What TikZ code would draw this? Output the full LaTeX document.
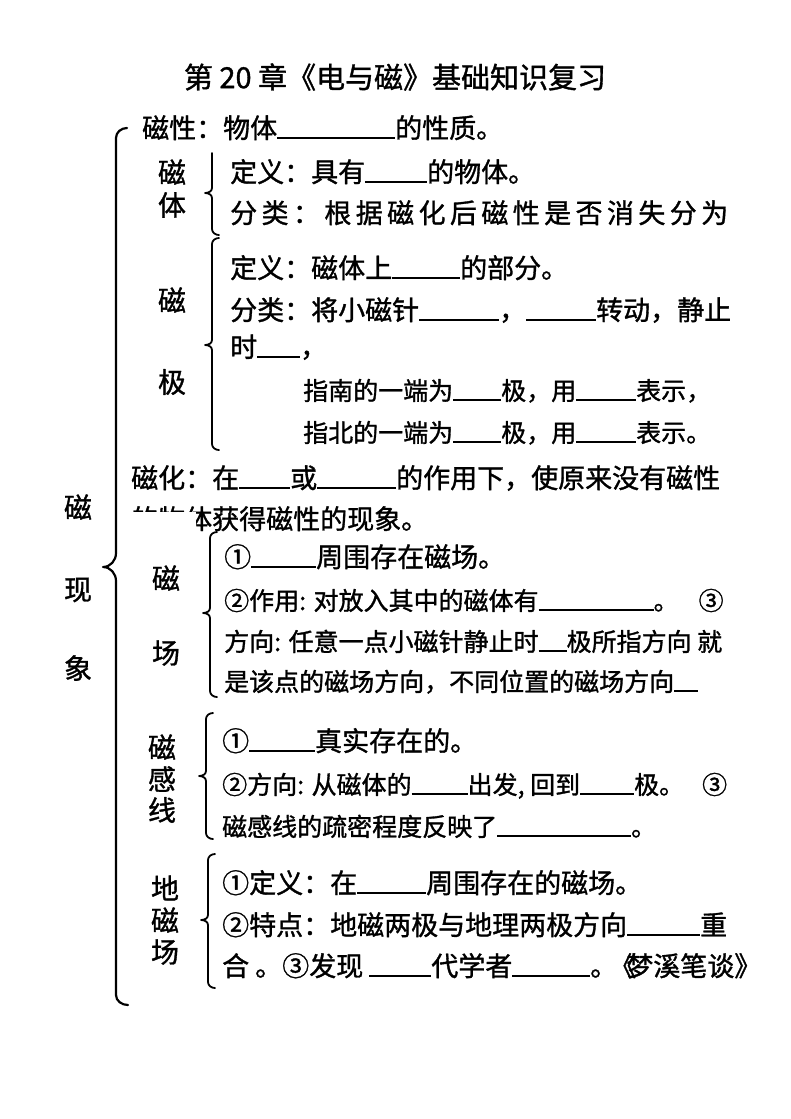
\documentclass[tikz,border=0pt]{standalone}
\usepackage{fontspec}
\setmainfont{Noto Sans CJK SC}[AutoFakeBold=1.2]
\newcommand\kong[1]{\rule[-1pt]{#1pt}{1.8pt}}
\begin{document}
\begin{tikzpicture}[x=1pt,y=-1pt,line cap=round,line join=round,
  hang/.style={anchor=base west,inner sep=0pt,font=\bfseries\fontsize{27}{30}\selectfont},
  xiao/.style={anchor=base west,inner sep=0pt,font=\bfseries\fontsize{25}{28}\selectfont},
  lei/.style={inner sep=0pt,font=\bfseries\fontsize{28}{30}\selectfont},
  kuo/.style={line width=1.8pt}]
  \useasboundingbox (0,0) rectangle (790,1119);
  \node[inner sep=0pt,font=\bfseries\fontsize{29}{32}\selectfont] (biaoti) at (395,77) {第 20 章《电与磁》基础知识复习};
  \draw[line width=2.2pt] (127,128) to[out=180,in=90] (116,138) -- (116,553) to[out=-90,in=0] (103,567)
    to[out=0,in=90] (116,581) -- (116,995) to[out=-90,in=180] (128,1005);
  \node[lei] (ci1) at (78,507) {磁};
  \node[lei] (ci2) at (78,590) {现};
  \node[lei] (ci3) at (78,668) {象};
  \node[hang] (cixing) at (142,138) {磁性：物体\kong{118}的性质。};
  \draw[kuo] (212,153) -- (212,188) to[out=-90,in=0] (205,193) to[out=0,in=90] (212,198) -- (212,229) to[out=-90,in=180] (219,235);
  \node[lei] (citi1) at (172,172) {磁};
  \node[lei] (citi2) at (172,205) {体};
  \node[hang] (citi-dy) at (230,182) {定义：具有\kong{62}的物体。};
  \node[hang] (citi-fl) at (230,223) {\makebox[498pt][s]{分\hfill 类\hfill ：\hfill 根\hfill 据\hfill 磁\hfill 化\hfill 后\hfill 磁\hfill 性\hfill 是\hfill 否\hfill 消\hfill 失\hfill 分\hfill 为}};
  \draw[kuo] (219,238) to[out=180,in=90] (212,244) -- (212,340) to[out=-90,in=0] (205,345) to[out=0,in=90] (212,350) -- (212,444) to[out=-90,in=180] (219,450);
  \node[lei] (ciji1) at (172,300) {磁};
  \node[lei] (ciji2) at (172,382) {极};
  \node[hang] (ciji-dy) at (230,278) {定义：磁体上\kong{68}的部分。};
  \node[hang] (ciji-fl) at (230,320) {分类：将小磁针\kong{80}，\kong{70}转动，静止};
  \node[hang] (ciji-sh) at (230,357) {时\kong{43}，};
  \node[xiao] (ciji-nan) at (303,400) {指南的一端为\kong{48}极，用\kong{60}表示，};
  \node[xiao] (ciji-bei) at (303,442) {指北的一端为\kong{48}极，用\kong{60}表示。};
  \node[hang] (cihua1) at (131,488) {磁化：在\kong{51}或\kong{79}的作用下，使原来没有磁性};
  \node[hang] (cihua2) at (131,529) {的物体获得磁性的现象。};
  \fill[white] (126,512) rectangle (196,540);
  \draw[kuo] (217,532) to[out=180,in=90] (210,538) -- (210,608) to[out=-90,in=0] (203,613) to[out=0,in=90] (210,618) -- (210,691) to[out=-90,in=180] (217,697);
  \node[lei] (cichang1) at (166,578) {磁};
  \node[lei] (cichang2) at (166,653) {场};
  \node[hang] (cichang-a) at (224,567) {①\kong{65}周围存在磁场。};
  \node[xiao] (cichang-b) at (224,610) {②作用: 对放入其中的磁体有\kong{115}。\hspace{20pt}③};
  \node[xiao] (cichang-c) at (224,651) {方向: 任意一点小磁针静止时\kong{28}极所指方向 就};
  \node[xiao] (cichang-d) at (224,691) {是该点的磁场方向，不同位置的磁场方向\kong{24}};
  \draw[kuo] (213,713) to[out=180,in=90] (206,719) -- (206,771) to[out=-90,in=0] (199,776) to[out=0,in=90] (206,781) -- (206,833) to[out=-90,in=180] (213,839);
  \node[lei] (cigan1) at (162,747) {磁};
  \node[lei] (cigan2) at (162,779) {感};
  \node[lei] (cigan3) at (162,810) {线};
  \node[hang] (cigan-a) at (222,751) {①\kong{66}真实存在的。};
  \node[xiao] (cigan-b) at (222,794) {②方向: 从磁体的\kong{56}出发, 回到\kong{54}极。\hspace{18pt}③};
  \node[xiao] (cigan-c) at (222,836) {磁感线的疏密程度反映了\kong{134}。};
  \draw[kuo] (215,854) to[out=180,in=90] (208,860) -- (208,915) to[out=-90,in=0] (201,920) to[out=0,in=90] (208,925) -- (208,982) to[out=-90,in=180] (215,988);
  \node[lei] (dici1) at (165,888) {地};
  \node[lei] (dici2) at (165,920) {磁};
  \node[lei] (dici3) at (165,952) {场};
  \node[hang] (dici-a) at (222,893) {①定义：在\kong{69}周围存在的磁场。};
  \node[hang] (dici-b) at (222,935) {②特点：地磁两极与地理两极方向\kong{73}重};
  \node[hang] (dici-c) at (222,976) {合 。③发现 \kong{62}代学者\kong{78}。\kern-8pt《\kern-10pt梦溪笔谈》};
\end{tikzpicture}
\end{document}
